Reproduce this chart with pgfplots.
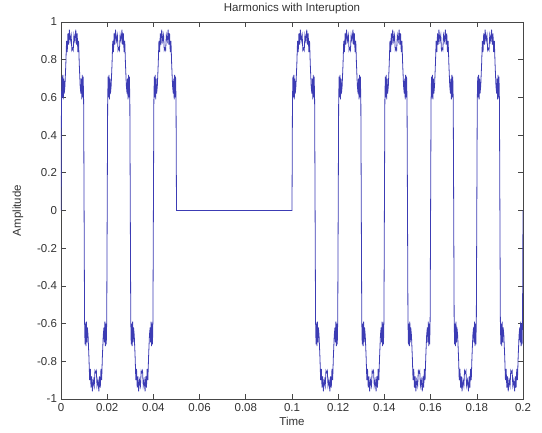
\documentclass[border=0pt]{standalone}
\usepackage{fontspec}
\setmainfont{Liberation Sans}
\usepackage{pgfplots}
\pgfplotsset{compat=1.18}
\definecolor{sig}{RGB}{60,60,180}
\definecolor{axgray}{RGB}{70,70,70}
\begin{document}
\fontsize{11.5}{13}\selectfont
\begin{tikzpicture}[x=1pt,y=1pt]
\useasboundingbox (0,0) rectangle (542,432);
\begin{axis}[
    at={(61pt,33pt)}, anchor=south west,
    width=462pt, height=377pt, scale only axis,
    xmin=0, xmax=0.2, ymin=-1, ymax=1,
    xtick={0,0.02,0.04,0.06,0.08,0.1,0.12,0.14,0.16,0.18,0.2},
    ytick={-1,-0.8,-0.6,-0.4,-0.2,0,0.2,0.4,0.6,0.8,1},
    scaled x ticks=false,
    xticklabel style={/pgf/number format/fixed, /pgf/number format/precision=2},
    yticklabel style={/pgf/number format/fixed, /pgf/number format/precision=1},
    /pgf/number format/assume math mode=true,
    tick align=inside,
    major tick length=5pt,
    axis line style={axgray, line width=0.8pt},
    tick style={axgray, line width=0.6pt},
    ticklabel style={font=\fontsize{11.5}{13}\selectfont, text=black!80},
    label style={font=\fontsize{11.5}{13}\selectfont, text=black!80},
    xlabel={Time}, ylabel={Amplitude},
    xlabel style={yshift=2pt},
    ylabel style={yshift=6pt},
    title={Harmonics with Interuption},
    title style={font=\fontsize{11.5}{13}\selectfont, text=black!80, yshift=-2pt},
]
\addplot[sig, line width=0.8pt] coordinates {
(0.0000,0)(0.0002,0.58)(0.0004,0.71)(0.0006,0.60)(0.0008,0.72)(0.0010,0.59)(0.0012,0.70)(0.0014,0.62)(0.0017,0.66)(0.0021,0.78)(0.0024,0.90)(0.0027,0.84)(0.0030,0.94)(0.0033,0.88)(0.0036,0.96)(0.0040,0.90)(0.0044,0.93)(0.0047,0.85)(0.0050,0.86)(0.0053,0.85)(0.0056,0.93)(0.0060,0.90)(0.0064,0.96)(0.0067,0.88)(0.0070,0.94)(0.0073,0.84)(0.0076,0.90)(0.0079,0.78)(0.0083,0.66)(0.0086,0.62)(0.0088,0.70)(0.0090,0.59)(0.0092,0.72)(0.0094,0.60)(0.0096,0.71)(0.0098,0.58)
(0.0100,0)(0.0102,-0.58)(0.0104,-0.71)(0.0106,-0.60)(0.0108,-0.72)(0.0110,-0.59)(0.0112,-0.70)(0.0114,-0.62)(0.0117,-0.66)(0.0121,-0.78)(0.0124,-0.90)(0.0127,-0.84)(0.0130,-0.94)(0.0133,-0.88)(0.0136,-0.96)(0.0140,-0.90)(0.0144,-0.93)(0.0147,-0.85)(0.0150,-0.86)(0.0153,-0.85)(0.0156,-0.93)(0.0160,-0.90)(0.0164,-0.96)(0.0167,-0.88)(0.0170,-0.94)(0.0173,-0.84)(0.0176,-0.90)(0.0179,-0.78)(0.0183,-0.66)(0.0186,-0.62)(0.0188,-0.70)(0.0190,-0.59)(0.0192,-0.72)(0.0194,-0.60)(0.0196,-0.71)(0.0198,-0.58)
(0.0200,0)(0.0202,0.58)(0.0204,0.71)(0.0206,0.60)(0.0208,0.72)(0.0210,0.59)(0.0212,0.70)(0.0214,0.62)(0.0217,0.66)(0.0221,0.78)(0.0224,0.90)(0.0227,0.84)(0.0230,0.94)(0.0233,0.88)(0.0236,0.96)(0.0240,0.90)(0.0244,0.93)(0.0247,0.85)(0.0250,0.86)(0.0253,0.85)(0.0256,0.93)(0.0260,0.90)(0.0264,0.96)(0.0267,0.88)(0.0270,0.94)(0.0273,0.84)(0.0276,0.90)(0.0279,0.78)(0.0283,0.66)(0.0286,0.62)(0.0288,0.70)(0.0290,0.59)(0.0292,0.72)(0.0294,0.60)(0.0296,0.71)(0.0298,0.58)
(0.0300,0)(0.0302,-0.58)(0.0304,-0.71)(0.0306,-0.60)(0.0308,-0.72)(0.0310,-0.59)(0.0312,-0.70)(0.0314,-0.62)(0.0317,-0.66)(0.0321,-0.78)(0.0324,-0.90)(0.0327,-0.84)(0.0330,-0.94)(0.0333,-0.88)(0.0336,-0.96)(0.0340,-0.90)(0.0344,-0.93)(0.0347,-0.85)(0.0350,-0.86)(0.0353,-0.85)(0.0356,-0.93)(0.0360,-0.90)(0.0364,-0.96)(0.0367,-0.88)(0.0370,-0.94)(0.0373,-0.84)(0.0376,-0.90)(0.0379,-0.78)(0.0383,-0.66)(0.0386,-0.62)(0.0388,-0.70)(0.0390,-0.59)(0.0392,-0.72)(0.0394,-0.60)(0.0396,-0.71)(0.0398,-0.58)
(0.0400,0)(0.0402,0.58)(0.0404,0.71)(0.0406,0.60)(0.0408,0.72)(0.0410,0.59)(0.0412,0.70)(0.0414,0.62)(0.0417,0.66)(0.0421,0.78)(0.0424,0.90)(0.0427,0.84)(0.0430,0.94)(0.0433,0.88)(0.0436,0.96)(0.0440,0.90)(0.0444,0.93)(0.0447,0.85)(0.0450,0.86)(0.0453,0.85)(0.0456,0.93)(0.0460,0.90)(0.0464,0.96)(0.0467,0.88)(0.0470,0.94)(0.0473,0.84)(0.0476,0.90)(0.0479,0.78)(0.0483,0.66)(0.0486,0.62)(0.0488,0.70)(0.0490,0.59)(0.0492,0.72)(0.0494,0.60)(0.0496,0.71)(0.0498,0.58)
(0.0500,0)(0.1000,0)
(0.1002,0.58)(0.1004,0.71)(0.1006,0.60)(0.1008,0.72)(0.1010,0.59)(0.1012,0.70)(0.1014,0.62)(0.1017,0.66)(0.1021,0.78)(0.1024,0.90)(0.1027,0.84)(0.1030,0.94)(0.1033,0.88)(0.1036,0.96)(0.1040,0.90)(0.1044,0.93)(0.1047,0.85)(0.1050,0.86)(0.1053,0.85)(0.1056,0.93)(0.1060,0.90)(0.1064,0.96)(0.1067,0.88)(0.1070,0.94)(0.1073,0.84)(0.1076,0.90)(0.1079,0.78)(0.1083,0.66)(0.1086,0.62)(0.1088,0.70)(0.1090,0.59)(0.1092,0.72)(0.1094,0.60)(0.1096,0.71)(0.1098,0.58)
(0.1100,0)(0.1102,-0.58)(0.1104,-0.71)(0.1106,-0.60)(0.1108,-0.72)(0.1110,-0.59)(0.1112,-0.70)(0.1114,-0.62)(0.1117,-0.66)(0.1121,-0.78)(0.1124,-0.90)(0.1127,-0.84)(0.1130,-0.94)(0.1133,-0.88)(0.1136,-0.96)(0.1140,-0.90)(0.1144,-0.93)(0.1147,-0.85)(0.1150,-0.86)(0.1153,-0.85)(0.1156,-0.93)(0.1160,-0.90)(0.1164,-0.96)(0.1167,-0.88)(0.1170,-0.94)(0.1173,-0.84)(0.1176,-0.90)(0.1179,-0.78)(0.1183,-0.66)(0.1186,-0.62)(0.1188,-0.70)(0.1190,-0.59)(0.1192,-0.72)(0.1194,-0.60)(0.1196,-0.71)(0.1198,-0.58)
(0.1200,0)(0.1202,0.58)(0.1204,0.71)(0.1206,0.60)(0.1208,0.72)(0.1210,0.59)(0.1212,0.70)(0.1214,0.62)(0.1217,0.66)(0.1221,0.78)(0.1224,0.90)(0.1227,0.84)(0.1230,0.94)(0.1233,0.88)(0.1236,0.96)(0.1240,0.90)(0.1244,0.93)(0.1247,0.85)(0.1250,0.86)(0.1253,0.85)(0.1256,0.93)(0.1260,0.90)(0.1264,0.96)(0.1267,0.88)(0.1270,0.94)(0.1273,0.84)(0.1276,0.90)(0.1279,0.78)(0.1283,0.66)(0.1286,0.62)(0.1288,0.70)(0.1290,0.59)(0.1292,0.72)(0.1294,0.60)(0.1296,0.71)(0.1298,0.58)
(0.1300,0)(0.1302,-0.58)(0.1304,-0.71)(0.1306,-0.60)(0.1308,-0.72)(0.1310,-0.59)(0.1312,-0.70)(0.1314,-0.62)(0.1317,-0.66)(0.1321,-0.78)(0.1324,-0.90)(0.1327,-0.84)(0.1330,-0.94)(0.1333,-0.88)(0.1336,-0.96)(0.1340,-0.90)(0.1344,-0.93)(0.1347,-0.85)(0.1350,-0.86)(0.1353,-0.85)(0.1356,-0.93)(0.1360,-0.90)(0.1364,-0.96)(0.1367,-0.88)(0.1370,-0.94)(0.1373,-0.84)(0.1376,-0.90)(0.1379,-0.78)(0.1383,-0.66)(0.1386,-0.62)(0.1388,-0.70)(0.1390,-0.59)(0.1392,-0.72)(0.1394,-0.60)(0.1396,-0.71)(0.1398,-0.58)
(0.1400,0)(0.1402,0.58)(0.1404,0.71)(0.1406,0.60)(0.1408,0.72)(0.1410,0.59)(0.1412,0.70)(0.1414,0.62)(0.1417,0.66)(0.1421,0.78)(0.1424,0.90)(0.1427,0.84)(0.1430,0.94)(0.1433,0.88)(0.1436,0.96)(0.1440,0.90)(0.1444,0.93)(0.1447,0.85)(0.1450,0.86)(0.1453,0.85)(0.1456,0.93)(0.1460,0.90)(0.1464,0.96)(0.1467,0.88)(0.1470,0.94)(0.1473,0.84)(0.1476,0.90)(0.1479,0.78)(0.1483,0.66)(0.1486,0.62)(0.1488,0.70)(0.1490,0.59)(0.1492,0.72)(0.1494,0.60)(0.1496,0.71)(0.1498,0.58)
(0.1500,0)(0.1502,-0.58)(0.1504,-0.71)(0.1506,-0.60)(0.1508,-0.72)(0.1510,-0.59)(0.1512,-0.70)(0.1514,-0.62)(0.1517,-0.66)(0.1521,-0.78)(0.1524,-0.90)(0.1527,-0.84)(0.1530,-0.94)(0.1533,-0.88)(0.1536,-0.96)(0.1540,-0.90)(0.1544,-0.93)(0.1547,-0.85)(0.1550,-0.86)(0.1553,-0.85)(0.1556,-0.93)(0.1560,-0.90)(0.1564,-0.96)(0.1567,-0.88)(0.1570,-0.94)(0.1573,-0.84)(0.1576,-0.90)(0.1579,-0.78)(0.1583,-0.66)(0.1586,-0.62)(0.1588,-0.70)(0.1590,-0.59)(0.1592,-0.72)(0.1594,-0.60)(0.1596,-0.71)(0.1598,-0.58)
(0.1600,0)(0.1602,0.58)(0.1604,0.71)(0.1606,0.60)(0.1608,0.72)(0.1610,0.59)(0.1612,0.70)(0.1614,0.62)(0.1617,0.66)(0.1621,0.78)(0.1624,0.90)(0.1627,0.84)(0.1630,0.94)(0.1633,0.88)(0.1636,0.96)(0.1640,0.90)(0.1644,0.93)(0.1647,0.85)(0.1650,0.86)(0.1653,0.85)(0.1656,0.93)(0.1660,0.90)(0.1664,0.96)(0.1667,0.88)(0.1670,0.94)(0.1673,0.84)(0.1676,0.90)(0.1679,0.78)(0.1683,0.66)(0.1686,0.62)(0.1688,0.70)(0.1690,0.59)(0.1692,0.72)(0.1694,0.60)(0.1696,0.71)(0.1698,0.58)
(0.1700,0)(0.1702,-0.58)(0.1704,-0.71)(0.1706,-0.60)(0.1708,-0.72)(0.1710,-0.59)(0.1712,-0.70)(0.1714,-0.62)(0.1717,-0.66)(0.1721,-0.78)(0.1724,-0.90)(0.1727,-0.84)(0.1730,-0.94)(0.1733,-0.88)(0.1736,-0.96)(0.1740,-0.90)(0.1744,-0.93)(0.1747,-0.85)(0.1750,-0.86)(0.1753,-0.85)(0.1756,-0.93)(0.1760,-0.90)(0.1764,-0.96)(0.1767,-0.88)(0.1770,-0.94)(0.1773,-0.84)(0.1776,-0.90)(0.1779,-0.78)(0.1783,-0.66)(0.1786,-0.62)(0.1788,-0.70)(0.1790,-0.59)(0.1792,-0.72)(0.1794,-0.60)(0.1796,-0.71)(0.1798,-0.58)
(0.1800,0)(0.1802,0.58)(0.1804,0.71)(0.1806,0.60)(0.1808,0.72)(0.1810,0.59)(0.1812,0.70)(0.1814,0.62)(0.1817,0.66)(0.1821,0.78)(0.1824,0.90)(0.1827,0.84)(0.1830,0.94)(0.1833,0.88)(0.1836,0.96)(0.1840,0.90)(0.1844,0.93)(0.1847,0.85)(0.1850,0.86)(0.1853,0.85)(0.1856,0.93)(0.1860,0.90)(0.1864,0.96)(0.1867,0.88)(0.1870,0.94)(0.1873,0.84)(0.1876,0.90)(0.1879,0.78)(0.1883,0.66)(0.1886,0.62)(0.1888,0.70)(0.1890,0.59)(0.1892,0.72)(0.1894,0.60)(0.1896,0.71)(0.1898,0.58)
(0.1900,0)(0.1902,-0.58)(0.1904,-0.71)(0.1906,-0.60)(0.1908,-0.72)(0.1910,-0.59)(0.1912,-0.70)(0.1914,-0.62)(0.1917,-0.66)(0.1921,-0.78)(0.1924,-0.90)(0.1927,-0.84)(0.1930,-0.94)(0.1933,-0.88)(0.1936,-0.96)(0.1940,-0.90)(0.1944,-0.93)(0.1947,-0.85)(0.1950,-0.86)(0.1953,-0.85)(0.1956,-0.93)(0.1960,-0.90)(0.1964,-0.96)(0.1967,-0.88)(0.1970,-0.94)(0.1973,-0.84)(0.1976,-0.90)(0.1979,-0.78)(0.1983,-0.66)(0.1986,-0.62)(0.1988,-0.70)(0.1990,-0.59)(0.1992,-0.72)(0.1994,-0.60)(0.1996,-0.71)(0.1998,-0.58)
(0.2000,0)
};
\end{axis}
\end{tikzpicture}
\end{document}
